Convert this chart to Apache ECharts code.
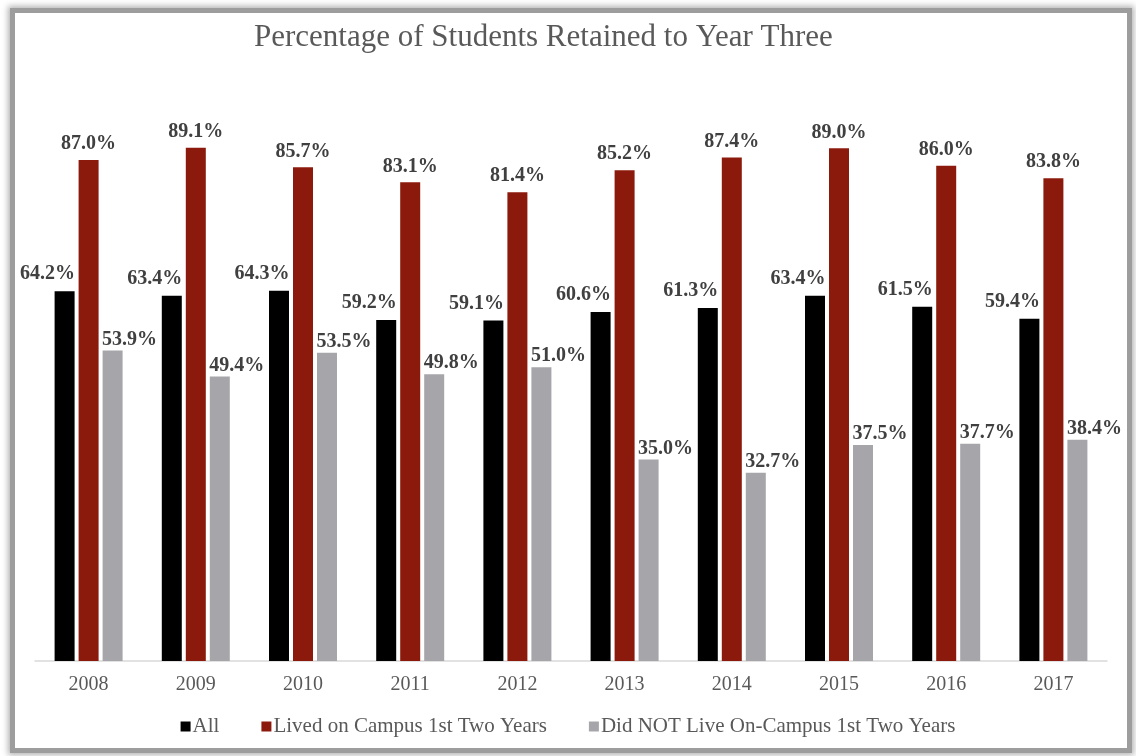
<!DOCTYPE html>
<html><head><meta charset="utf-8">
<script src="https://cdn.jsdelivr.net/npm/echarts@6/dist/echarts.min.js"></script>
<style>
html,body{margin:0;padding:0;background:#fff;width:1136px;height:756px;overflow:hidden}
#frame{position:absolute;left:10px;top:8px;width:1112px;height:735px;border:5px solid #9d9d9d;box-shadow:0 0 6px 2px rgba(0,0,0,0.3);background:#fff}
#chart{position:absolute;left:0;top:0;width:1136px;height:756px}
</style></head>
<body>
<div id="frame"></div>
<div id="chart"></div>
<script>
const years = ['2008','2009','2010','2011','2012','2013','2014','2015','2016','2017'];
const allStudents = [64.2, 63.4, 64.3, 59.2, 59.1, 60.6, 61.3, 63.4, 61.5, 59.4];
const livedOnCampus = [87.0, 89.1, 85.7, 83.1, 81.4, 85.2, 87.4, 89.0, 86.0, 83.8];
const notOnCampus = [53.9, 49.4, 53.5, 49.8, 51.0, 35.0, 32.7, 37.5, 37.7, 38.4];
const seriesNames = ['All', 'Lived on Campus 1st Two Years', 'Did NOT Live On-Campus 1st Two Years'];

const FONT = "'Liberation Serif', 'Times New Roman', serif";
const chart = echarts.init(document.getElementById('chart'), null, {renderer: 'canvas'});
function lbl(dx, dy) {
  return {
    show: true, position: 'top', distance: 4, offset: [dx, dy],
    formatter: p => p.value.toFixed(1) + '%',
    fontFamily: FONT, fontWeight: 'bold', fontSize: 20, color: '#404040'
  };
}
chart.setOption({
  backgroundColor: 'transparent',
  animation: false,
  title: {
    text: 'Percentage of Students Retained to Year Three',
    left: 249, top: 17,
    textStyle: {fontFamily: FONT, fontWeight: 'normal', fontSize: 31, color: '#595959'}
  },
  legend: {
    bottom: 14, left: 'center',
    icon: 'rect', itemWidth: 10, itemHeight: 10, itemGap: 42,
    textStyle: {fontFamily: FONT, fontSize: 21, color: '#595959', padding: [0,0,0,-3]},
    data: seriesNames
  },
  grid: {left: 35, right: 29, top: 85, bottom: 95, containLabel: false},
  xAxis: {
    type: 'category', data: years,
    axisLine: {lineStyle: {color: '#d9d9d9', width: 1.5}},
    axisTick: {show: false},
    axisLabel: {fontFamily: FONT, fontSize: 20, color: '#595959', margin: 14}
  },
  yAxis: {type: 'value', min: 0, max: 100, show: false, splitLine: {show: false}},
  series: [
    {name: seriesNames[0], type: 'bar', data: allStudents, barWidth: 20, barGap: '20%',
     itemStyle: {color: '#000000'}, label: lbl(-17, -3)},
    {name: seriesNames[1], type: 'bar', data: livedOnCampus, barWidth: 20, barGap: '20%',
     itemStyle: {color: '#8c1a0c'}, label: lbl(0, -2)},
    {name: seriesNames[2], type: 'bar', data: notOnCampus, barWidth: 20, barGap: '20%',
     itemStyle: {color: '#a6a6aa'}, label: lbl(17, 3)}
  ]
});
</script>
</body></html>
